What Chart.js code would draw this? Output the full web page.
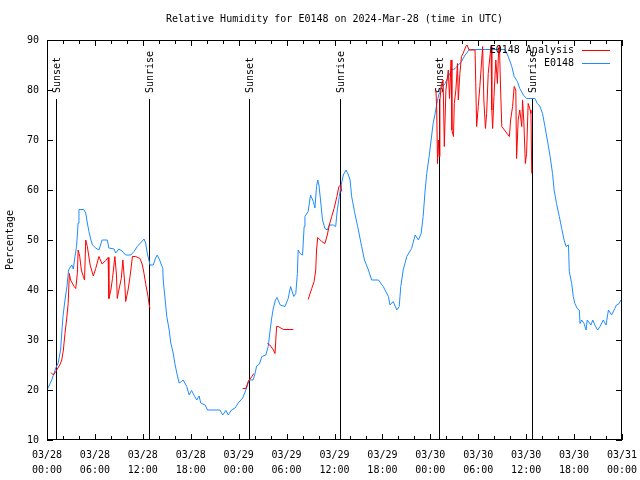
<!DOCTYPE html>
<html>
<head>
<meta charset="utf-8">
<script src="https://cdn.jsdelivr.net/npm/chart.js@4.4.0/dist/chart.umd.min.js"></script>
<style>
  body { margin: 0; background: #fff; }
  canvas { display: block; }
</style>
</head>
<body>
<canvas id="rh" width="640" height="480"></canvas>
<script>
// hours since 03/28 00:00 UTC
const blueHours = [0.0, 0.6, 1.1, 1.4, 1.7, 2.0, 2.25, 2.5, 2.7, 3.1, 3.3, 3.5, 3.7, 3.9, 4.0, 4.6, 4.85, 5.05, 5.25, 5.5,
  5.7, 6.1, 6.5, 6.7, 6.9, 7.55, 7.75, 8.4, 8.6, 9.0, 9.4, 9.85, 10.5, 10.9, 11.3, 11.7, 12.15, 12.35, 12.55, 12.9,
  13.3, 13.6, 13.8, 14.1, 14.5, 14.55, 14.8, 15.0, 15.3, 15.5, 15.8, 16.0, 16.25, 16.55, 16.85, 17.05, 17.5, 17.8, 18.1, 18.5,
  18.75, 19.05, 19.25, 19.8, 20.1, 21.65, 22.0, 22.4, 22.7, 23.1, 23.55, 23.95, 24.5, 25.0, 25.3, 25.8, 26.05, 26.25, 26.6, 26.9,
  27.4, 27.7, 27.9, 28.1, 28.3, 28.6, 28.8, 29.2, 29.8, 30.2, 30.5, 30.7, 30.9, 31.15, 31.35, 31.45, 31.7, 32.0, 32.2, 32.3,
  32.7, 33.0, 33.35, 33.55, 33.75, 33.9, 34.05, 34.25, 34.5, 34.8, 35.1, 35.35, 35.85, 36.15, 36.35, 36.6, 36.8, 37.1, 37.45, 37.75,
  37.95, 38.15, 38.5, 38.9, 39.4, 39.75, 40.25, 40.65, 41.5, 42.1, 42.75, 42.95, 43.35, 43.8, 44.1, 44.3, 44.6, 45.05, 45.65, 46.1,
  46.5, 46.85, 47.1, 47.35, 47.55, 47.85, 48.1, 48.35, 48.6, 48.9, 49.1, 49.2, 49.85, 50.25, 50.7, 51.1, 51.5, 51.9, 52.35, 52.9,
  57.35, 57.75, 58.2, 58.5, 58.9, 59.2, 59.65, 60.05, 61.1, 61.4, 61.7, 62.05, 62.35, 62.65, 63.0, 63.3, 63.5, 63.8, 64.15, 64.45,
  64.75, 65.0, 65.3, 65.4, 65.7, 65.9, 66.1, 66.4, 66.65, 66.75, 66.95, 67.25, 67.5, 67.65, 68.1, 68.35, 68.6, 68.95, 69.25, 69.65,
  70.0, 70.3, 70.7, 71.1, 71.3, 71.65, 71.85];
const blueValues = [20, 22, 24.4, 25.4, 28, 34.7, 38, 40.7, 44, 45, 44.2, 46.7, 48.7, 53.4, 56.1, 56.1, 55.4, 53.4, 51.7, 50,
  49, 48.4, 48, 49, 50, 50, 48.4, 48.2, 47.4, 48.2, 47.8, 47, 47, 47.7, 48.7, 49.4, 50.2, 49.4, 47.4, 45,
  45, 46.4, 47, 46, 44.3, 42, 38, 34.7, 32, 29.4, 27.4, 25.4, 23.4, 21.4, 21.7, 22, 20.7, 19, 19.9, 18.7,
  18, 18.8, 17.4, 17, 16, 16, 15, 15.9, 15, 16, 16.4, 17.4, 18.4, 20.4, 22, 22, 23.3, 24.8, 25.2, 26.7,
  27, 28.7, 31.4, 34, 36, 38, 38.5, 37, 36.7, 38.3, 40.7, 39.7, 38.7, 39.3, 43.3, 48, 47.3, 47, 52.7, 54.7,
  55.7, 59, 57.7, 56.4, 60.7, 62, 61, 58, 54, 52.3, 52, 53, 53, 52.7, 56, 58.7, 60.7, 63, 64, 63,
  62, 58.7, 55.7, 52.7, 48.7, 46, 44, 42, 42, 40.7, 38.7, 37, 37.7, 36, 36.7, 40.7, 44, 46.7, 48.3, 51,
  50, 51.3, 54.7, 60, 63.3, 66.7, 70, 73.3, 75.3, 78, 79.3, 80, 81.3, 82.7, 84, 84.3, 85, 85.7, 87, 88.1,
  88.1, 86.7, 84.7, 82.7, 81.7, 80.3, 79, 78.3, 78.3, 77.3, 76.8, 75.3, 72.7, 70, 66.7, 63.3, 60, 57.3, 54.7, 52.3,
  50, 48.7, 49, 43.7, 41.3, 38.7, 37.3, 36.3, 36, 33.3, 34, 33.3, 32, 34, 33, 34, 33, 32, 32.7, 34,
  33, 36, 35, 36.3, 37, 37.3, 38];

// analysis series, null marks a gap
const redHours = [0.5, 0.8, 1.1, 1.6, 1.85, 2.05, 2.25, 2.45, 2.65, 2.8, 2.95, 3.4, 3.6, 3.8, 3.9, 4.1, 4.3, 4.55, 4.7, 4.85,
  5.05, 5.4, 5.8, 6.1, 6.5, 6.9, 7.35, 7.65, 7.75, 8.0, 8.2, 8.5, 8.7, 8.8, 9.0, 9.3, 9.5, 9.75, 9.85, 10.15,
  10.4, 10.7, 11.1, 11.65, 11.95, 12.15, 12.35, 12.65, 12.8, 12.9, 13.0,
  24.5, 24.9, 25.2, 25.65, 25.9, 26.0,
  27.6, 27.9, 28.35, 28.55, 28.75, 28.95, 29.6, 30.85, 31.0,
  32.7, 33.15, 33.45, 33.65, 33.75, 33.9, 34.4, 34.8, 35.1, 35.35, 35.65, 35.95, 36.3, 36.55, 36.8, 36.9, 37.0,
  48.7, 48.8, 48.9, 49.0, 49.1, 49.2, 49.4, 49.6, 49.75, 49.95, 50.25, 50.4, 50.6, 50.7, 50.9, 51.0, 51.2, 51.4, 51.5, 51.7,
  51.9, 52.1, 52.45, 52.6, 52.85, 53.6, 53.8, 54.0, 54.2, 54.55, 54.7, 54.9, 55.05, 55.25, 55.5, 55.6, 55.7, 55.8, 55.97, 56.2,
  56.4, 56.55, 56.65, 56.8, 56.95, 57.75, 57.9, 58.05, 58.3, 58.5, 58.7, 58.8, 59.0, 59.2, 59.45, 59.55, 59.7, 59.9, 60.05, 60.25,
  60.5, 60.6, 60.7];
const redValues = [23.5, 23, 23.7, 25, 26, 28, 31.3, 34, 37.3, 43.3, 42, 40.7, 40.3, 43.3, 48, 46.7, 44, 42.7, 42, 50,
  48.7, 45, 42.8, 44.3, 46.7, 45.2, 45.9, 46.5, 38.3, 40, 42.3, 46.7, 43, 38.3, 40, 42.3, 46, 41, 37.7, 40,
  42.7, 46.7, 46.7, 46.3, 45, 43.3, 41.3, 38.7, 37, 36.3, null,
  20.3, 20.3, 21.7, 22.7, 23.3, null,
  29.3, 29, 28, 27.3, 32.7, 32.7, 32.1, 32.1, null,
  38.1, 40.3, 41.7, 44, 48, 50.5, 49.7, 49.3, 51, 53, 54.7, 56.3, 58.7, 60.7, 61, 59.7, null,
  80, 76, 65.3, 70, 66.7, 78, 81.3, 82, 68.7, 80, 84, 78.3, 86, 72, 70.7, 77.3, 80, 85.3, 78, 83.3,
  86.7, 87.3, 88.7, 89, 88, 88, 72.7, 76.7, 80.7, 88.7, 78, 72.3, 75.3, 83.3, 87.3, 88.7, 76, 72.3, 78.7, 86,
  81.3, 88, 89, 80, 72.7, 71, 70.7, 74, 76.7, 80.7, 80, 66.3, 74, 76, 72.7, 78, 74, 65.3, 67.3, 77.3,
  76, 75.3, 63.3];

const sunHours = [1.17, 12.8, 25.24, 36.7, 49.1, 60.74];
const sunLabels = ["Sunset", "Sunrise", "Sunset", "Sunrise", "Sunset", "Sunrise"];

const xTickDates = ["03/28", "03/28", "03/28", "03/28", "03/29", "03/29", "03/29", "03/29", "03/30", "03/30", "03/30", "03/30", "03/31"];
const xTickTimes = ["00:00", "06:00", "12:00", "18:00", "00:00", "06:00", "12:00", "18:00", "00:00", "06:00", "12:00", "18:00", "00:00"];

const FONT = "DejaVu Sans Mono";
const BLUE = "#1e8cff";
const RED = "#ff0000";

const gnuplotLook = {
  id: "gnuplotLook",
  beforeDatasetsDraw(chart) {
    const ctx = chart.ctx;
    const x = chart.scales.x;
    const y = chart.scales.y;
    ctx.save();
    ctx.strokeStyle = "#000";
    ctx.lineWidth = 1;
    ctx.fillStyle = "#000";
    ctx.font = "10px " + FONT;
    sunHours.forEach((h, i) => {
      const px = Math.round(x.getPixelForValue(h)) + 0.5;
      ctx.beginPath();
      ctx.moveTo(px, y.bottom);
      ctx.lineTo(px, y.getPixelForValue(78.2));
      ctx.stroke();
      ctx.save();
      ctx.translate(px + 1, y.getPixelForValue(79.4));
      ctx.rotate(-Math.PI / 2);
      ctx.textAlign = "left";
      ctx.textBaseline = "middle";
      ctx.fillText(sunLabels[i], 0, 0);
      ctx.restore();
    });
    ctx.restore();
  },
  afterDatasetsDraw(chart) {
    const ctx = chart.ctx;
    const a = chart.chartArea;
    const x = chart.scales.x;
    const y = chart.scales.y;
    ctx.save();
    ctx.strokeStyle = "#000";
    ctx.lineWidth = 1;
    // frame
    ctx.strokeRect(a.left + 0.5, a.top + 0.5, a.right - a.left - 1, a.bottom - a.top - 1);
    ctx.beginPath();
    // y ticks, both sides
    y.ticks.forEach(t => {
      const py = Math.round(y.getPixelForValue(t.value)) + 0.5;
      ctx.moveTo(a.left, py); ctx.lineTo(a.left + 6, py);
      ctx.moveTo(a.right, py); ctx.lineTo(a.right - 6, py);
    });
    // x ticks every 2 h, longer every 6 h
    for (let h = x.min; h <= x.max; h += 2) {
      const px = Math.round(x.getPixelForValue(h)) + 0.5;
      const len = h % 6 === 0 ? 6 : 4;
      ctx.moveTo(px, a.bottom); ctx.lineTo(px, a.bottom - len);
      ctx.moveTo(px, a.top); ctx.lineTo(px, a.top + len);
    }
    ctx.stroke();

    // title
    ctx.fillStyle = "#000";
    ctx.font = "10px " + FONT;
    ctx.textAlign = "center";
    ctx.textBaseline = "middle";
    ctx.fillText("Relative Humidity for E0148 on 2024-Mar-28 (time in UTC)", (a.left + a.right) / 2, 19);

    // legend
    ctx.textAlign = "right";
    chart.data.datasets.forEach((ds, i) => {
      const ly = 50 + i * 13;
      ctx.fillStyle = "#000";
      ctx.fillText(ds.label, 574, ly);
      ctx.strokeStyle = ds.borderColor;
      ctx.beginPath();
      ctx.moveTo(582, ly + 0.5);
      ctx.lineTo(610, ly + 0.5);
      ctx.stroke();
    });
    ctx.restore();
  }
};

new Chart(document.getElementById("rh"), {
  type: "line",
  data: {
    datasets: [
      {
        label: "E0148 Analysis",
        data: redHours.map((h, i) => ({ x: h, y: redValues[i] })),
        borderColor: RED,
        borderWidth: 1,
        pointRadius: 0,
        spanGaps: false,
      },
      {
        label: "E0148",
        data: blueHours.map((h, i) => ({ x: h, y: blueValues[i] })),
        borderColor: BLUE,
        borderWidth: 1,
        pointRadius: 0,
      },
    ],
  },
  options: {
    responsive: false,
    animation: false,
    devicePixelRatio: 1,
    layout: { padding: { top: 40, right: 18, left: 0, bottom: 0 } },
    plugins: {
      legend: { display: false },
      tooltip: { enabled: false },
    },
    scales: {
      x: {
        type: "linear",
        min: 0,
        max: 72,
        grid: { display: false, drawTicks: false },
        border: { display: false },
        ticks: {
          stepSize: 6,
          autoSkip: false,
          maxRotation: 0,
          padding: 8,
          color: "#000",
          font: { family: FONT, size: 10, lineHeight: 1.5 },
          callback: (v) => [xTickDates[v / 6], xTickTimes[v / 6]],
        },
        afterFit: (s) => { s.height = 40; s.paddingLeft = 0; s.paddingRight = 0; },
      },
      y: {
        min: 10,
        max: 90,
        grid: { display: false, drawTicks: false },
        border: { display: false },
        ticks: {
          stepSize: 10,
          padding: 8,
          color: "#000",
          font: { family: FONT, size: 10 },
        },
        title: {
          display: true,
          text: "Percentage",
          color: "#000",
          font: { family: FONT, size: 10 },
          padding: { top: 4, bottom: 0 },
        },
        afterFit: (s) => { s.width = 47; s.paddingTop = 0; s.paddingBottom = 0; },
      },
    },
  },
  plugins: [gnuplotLook],
});
</script>
</body>
</html>
